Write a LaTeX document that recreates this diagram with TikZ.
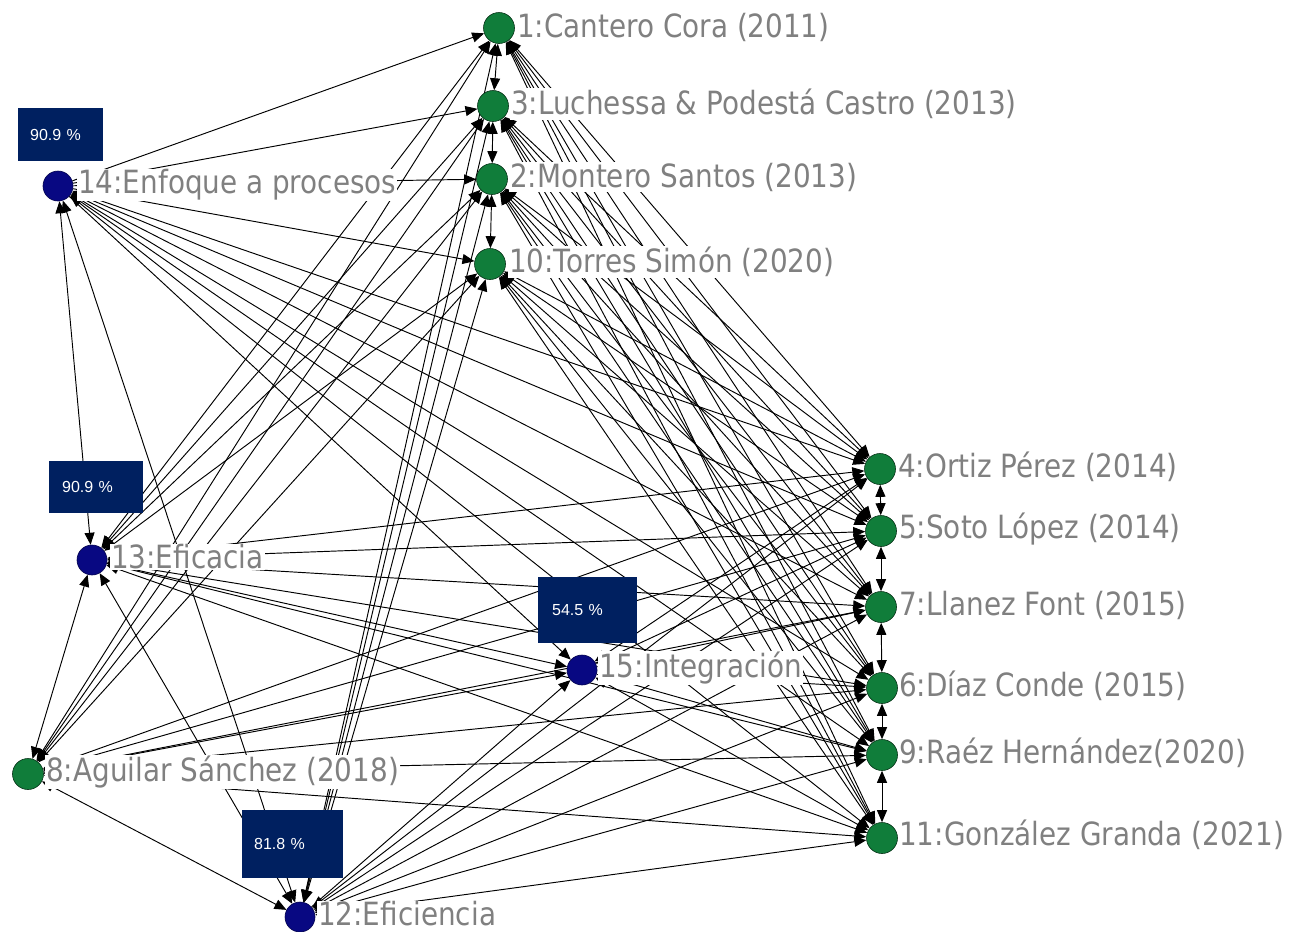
\documentclass[tikz,border=0pt]{standalone}
\usepackage{fontspec}
\usepackage{graphicx}
\setmainfont{DejaVu Sans}
\setsansfont{Liberation Sans}
\usetikzlibrary{arrows.meta}
\definecolor{gnode}{RGB}{16,125,58}
\definecolor{bnode}{RGB}{8,8,130}
\definecolor{boxc}{RGB}{0,32,96}
\definecolor{labgray}{RGB}{128,128,128}
\newcommand{\lbl}[1]{\scalebox{0.87}[1]{#1}}
\pgfdeclarelayer{edges}
\pgfsetlayers{edges,main}
\begin{document}
\begin{tikzpicture}[x=1pt,y=-1pt,
  vg/.style={circle,draw=black!60!gnode,fill=gnode,line width=0.6pt,minimum size=31pt,inner sep=0pt},
  vb/.style={circle,draw=black!40!bnode,fill=bnode,line width=0.6pt,minimum size=30pt,inner sep=0pt},
  lab/.style={anchor=west,font=\fontsize{32}{32}\selectfont,text=labgray,fill=white,inner sep=1pt},
  one/.style={line width=0.95pt,-{Triangle[length=12pt,width=10pt]}},
  two/.style={line width=0.95pt,{Triangle[length=12pt,width=10pt]}-{Triangle[length=12pt,width=10pt]}},
  pbox/.style={fill=boxc,text=white,font=\sffamily\fontsize{16}{16}\selectfont,anchor=north west,align=left,inner xsep=12pt,inner ysep=0pt}]
\useasboundingbox (0,0) rectangle (1302,932);
% labels
\node[lab] (l1) at (516,27) {\lbl{1:Cantero Cora (2011)}};
\node[lab] (l3) at (510,104) {\lbl{3:Luchessa \& Podestá Castro (2013)}};
\node[lab] (l2) at (509,177) {\lbl{2:Montero Santos (2013)}};
\node[lab] (l10) at (508,262) {\lbl{10:Torres Simón (2020)}};
\node[lab] (l14) at (77,185) {\lbl{14:Enfoque a procesos}};
\node[lab] (l13) at (110,557) {\lbl{13:Eficacia}};
\node[lab] (l15) at (598,668) {\lbl{15:Integración}};
\node[lab] (l8) at (45,772) {\lbl{8:Aguilar Sánchez (2018)}};
\node[lab] (l12) at (317,914) {\lbl{12:Eficiencia}};
\node[lab] (l4) at (897,467) {\lbl{4:Ortiz Pérez (2014)}};
\node[lab] (l5) at (898,529) {\lbl{5:Soto López (2014)}};
\node[lab] (l7) at (898,605) {\lbl{7:Llanez Font (2015)}};
\node[lab] (l6) at (898,686) {\lbl{6:Díaz Conde (2015)}};
\node[lab] (l9) at (898,753) {\lbl{9:Raéz Hernández(2020)}};
\node[lab] (l11) at (898,835) {\lbl{11:González Granda (2021)}};
% vertices
\node[vg] (n1) at (499,28) {};
\node[vg] (n3) at (493,106) {};
\node[vg] (n2) at (492,179) {};
\node[vg] (n10) at (490,264) {};
\node[vb] (n14) at (58,186) {};
\node[vb] (n13) at (92,560) {};
\node[vb] (n15) at (582,670) {};
\node[vg] (n8) at (28,774) {};
\node[vb] (n12) at (300,917) {};
\node[vg] (n4) at (880,469) {};
\node[vg] (n5) at (881,531) {};
\node[vg] (n7) at (881,607) {};
\node[vg] (n6) at (882,688) {};
\node[vg] (n9) at (882,755) {};
\node[vg] (n11) at (882,838) {};
% edges
\begin{pgfonlayer}{edges}
\foreach \a/\b in {n1/n3,n3/n2,n2/n10,n4/n5,n5/n7,n7/n6,n6/n9,n9/n11}
  \draw[two] (\a) -- (\b);
\foreach \t in {n1,n3,n2,n10}
  \foreach \r in {n4,n5,n7,n6,n9,n11}
    \draw[two] (\t) -- (\r);
\foreach \t in {n1,n3,n2,n10}
  \draw[one] (n14) -- (\t);
\foreach \s in {n13,n8,n12}
  \foreach \t in {n1,n3,n2,n10}
    \draw[two] (\s) -- (\t);
\foreach \s in {n14,n13,n8,n12,n15}
  \foreach \r in {n4,n5,n7,n6,n9,n11}
    \draw[two] (\s) -- (\r);
\foreach \a/\b in {n14/n13,n14/n12,n13/n8,n8/n12,n13/n12}
  \draw[two] (\a) -- (\b);
\foreach \a in {n13,n14,n12,n8}
  \draw[one] (\a) -- (n15);
\end{pgfonlayer}
% percentage boxes
\node[pbox,minimum width=85pt,minimum height=53pt,text width=61pt] (b14) at (18,108) {90.9 \%};
\node[pbox,minimum width=94pt,minimum height=52pt,text width=68pt,inner xsep=13pt] (b13) at (49,461) {90.9 \%};
\node[pbox,minimum width=99pt,minimum height=66pt,text width=71pt,inner xsep=14pt] (b15) at (538,577) {54.5 \%};
\node[pbox,minimum width=101pt,minimum height=68pt,text width=77pt] (b12) at (242,810) {81.8 \%};
\end{tikzpicture}
\end{document}
